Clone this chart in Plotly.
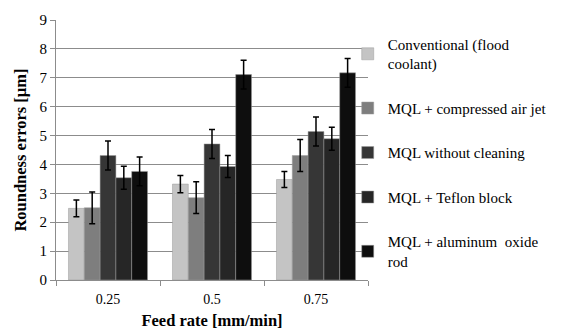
import plotly.graph_objects as go

categories = ["0.25", "0.5", "0.75"]
series_names = [
    "Conventional (flood<br>coolant)",
    "MQL + compressed air jet",
    "MQL without cleaning",
    "MQL + Teflon block",
    "MQL + aluminum  oxide<br>rod",
]
conventional = [2.48, 3.32, 3.48]
air_jet = [2.50, 2.85, 4.31]
without_cleaning = [4.31, 4.71, 5.14]
teflon = [3.54, 3.93, 4.89]
aluminum = [3.76, 7.11, 7.17]

err_conventional = [0.29, 0.30, 0.28]
err_air_jet = [0.55, 0.55, 0.55]
err_without_cleaning = [0.50, 0.50, 0.50]
err_teflon = [0.40, 0.38, 0.40]
err_aluminum = [0.50, 0.50, 0.50]

values = [conventional, air_jet, without_cleaning, teflon, aluminum]
errors = [err_conventional, err_air_jet, err_without_cleaning, err_teflon, err_aluminum]
colors = ["#c4c4c4", "#7e7e7e", "#363636", "#262626", "#0e0e0e"]

fig = go.Figure()
for i, (name, v, e, c) in enumerate(zip(series_names, values, errors, colors)):
    fig.add_trace(go.Bar(
        x=categories, y=v, name=name, legendgroup=str(i),
        marker=dict(color=c, line=dict(color="#9a9a9a", width=0.5)),
        error_y=dict(type="data", array=e, color="black", thickness=1.5, width=3),
    ))

font = "Liberation Serif"
fig.update_layout(
    width=570, height=330,
    margin=dict(l=56, r=202, t=15, b=50),
    paper_bgcolor="white", plot_bgcolor="white",
    barmode="group", bargap=0.24, bargroupgap=0,
    font=dict(family=font, size=13, color="black"),
    legend=dict(x=0.935, y=0.97, xanchor="left", yanchor="top",
                font=dict(family=font, size=15, color="black"),
                tracegroupgap=22, itemwidth=30, bgcolor="rgba(0,0,0,0)",
                maxheight=400),
    showlegend=True,
)
fig.update_yaxes(range=[0, 9], dtick=1, showgrid=True, gridcolor="#8c8c8c", gridwidth=1,
                 showline=True, linecolor="#8c8c8c", ticks="outside", ticklen=5,
                 tickcolor="#8c8c8c", tickfont=dict(family=font, size=15, color="black"),
                 title=dict(text="<b>Roundness errors [µm]</b>",
                            font=dict(family=font, size=16.5, color="black"), standoff=8))
fig.update_xaxes(showline=True, linecolor="#8c8c8c", ticks="outside", ticklen=5,
                 tickcolor="#8c8c8c", tickson="boundaries", ticklabelstandoff=6,
                 tickfont=dict(family=font, size=14, color="black"), automargin=False,
                 title=dict(text="<b>Feed rate [mm/min]</b>",
                            font=dict(family=font, size=16.5, color="black"), standoff=10))

fig.write_html("out.html", config={"displayModeBar": False},
               post_script="document.body.style.margin='0';")
